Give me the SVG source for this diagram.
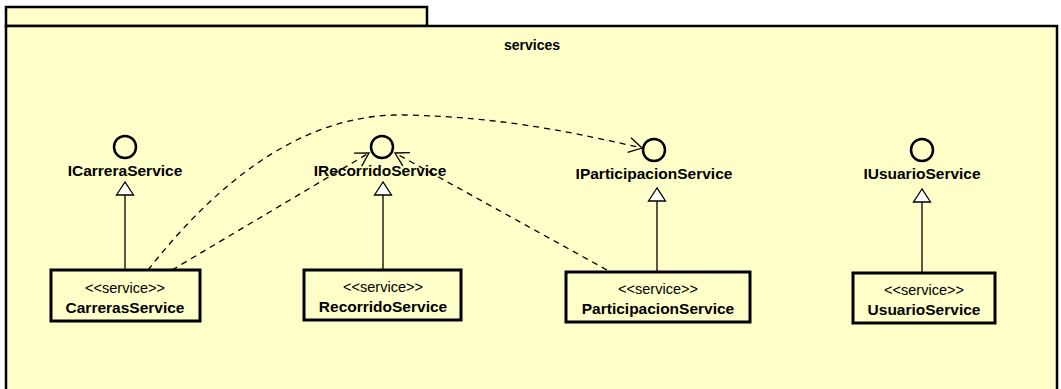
<svg xmlns="http://www.w3.org/2000/svg" width="1061" height="389" viewBox="0 0 1061 389">
  <style>
    .pkg { fill: #ffffca; stroke: #000; stroke-width: 2.5; }
    .cls { fill: #ffffca; stroke: #000; stroke-width: 3; }
    .iface { fill: none; stroke: #000; stroke-width: 2.5; }
    .real { fill: none; stroke: #000; stroke-width: 1.3; }
    .tri { fill: #fff; stroke: #000; stroke-width: 1.3; }
    .dep { fill: none; stroke: #000; stroke-width: 1.3; stroke-dasharray: 6 5; }
    .lbl { font-family: "Liberation Sans", Arial, sans-serif; font-weight: bold; font-size: 15.5px; text-anchor: middle; fill: #000; }
    .ster { font-family: "Liberation Sans", Arial, sans-serif; font-size: 14.5px; text-anchor: middle; fill: #000; }
    .title { font-family: "Liberation Sans", Arial, sans-serif; font-weight: bold; font-size: 14px; text-anchor: middle; fill: #000; }
  </style>
  <defs>
    <marker id="open" markerUnits="userSpaceOnUse" markerWidth="20" markerHeight="20" viewBox="-16 -10 18 20" refX="0" refY="0" orient="auto">
      <path d="M-13,-7.5 L0,0 L-13,7.5" fill="none" stroke="#000" stroke-width="1.3"/>
    </marker>
  </defs>

  <!-- package frame -->
  <g id="pkg-services">
    <rect class="pkg" x="6" y="7" width="421" height="19"/>
    <rect class="pkg" x="6" y="26" width="1051" height="380"/>
    <text class="title" x="532" y="50">services</text>
  </g>

  <!-- provided interfaces -->
  <g id="ICarreraService">
    <circle class="iface" cx="125" cy="147" r="11"/>
    <text class="lbl" x="125" y="176">ICarreraService</text>
  </g>
  <g id="IRecorridoService">
    <circle class="iface" cx="382" cy="147" r="11"/>
    <text class="lbl" x="380" y="176">IRecorridoService</text>
  </g>
  <g id="IParticipacionService">
    <circle class="iface" cx="654" cy="150" r="11"/>
    <text class="lbl" x="654" y="179">IParticipacionService</text>
  </g>
  <g id="IUsuarioService">
    <circle class="iface" cx="922" cy="150" r="11"/>
    <text class="lbl" x="922" y="179">IUsuarioService</text>
  </g>

  <!-- service classes -->
  <g id="CarrerasService">
    <rect class="cls" x="51" y="270" width="149" height="51"/>
    <text class="ster" x="125" y="293">&lt;&lt;service&gt;&gt;</text>
    <text class="lbl" x="125" y="313">CarrerasService</text>
  </g>
  <g id="RecorridoService">
    <rect class="cls" x="304" y="270" width="157" height="50"/>
    <text class="ster" x="383" y="292">&lt;&lt;service&gt;&gt;</text>
    <text class="lbl" x="383" y="312">RecorridoService</text>
  </g>
  <g id="ParticipacionService">
    <rect class="cls" x="566" y="272" width="184" height="50"/>
    <text class="ster" x="658" y="294">&lt;&lt;service&gt;&gt;</text>
    <text class="lbl" x="658" y="314">ParticipacionService</text>
  </g>
  <g id="UsuarioService">
    <rect class="cls" x="853" y="273" width="142" height="50"/>
    <text class="ster" x="924" y="295">&lt;&lt;service&gt;&gt;</text>
    <text class="lbl" x="924" y="315">UsuarioService</text>
  </g>

  <!-- connectors -->
  <g id="connectors">
    <!-- realizations -->
    <line class="real" x1="125" y1="195" x2="125" y2="270"/>
    <polygon class="tri" points="125,182 116.5,195 133.5,195"/>
    <line class="real" x1="383" y1="195" x2="383" y2="270"/>
    <polygon class="tri" points="383,182 374.5,195 391.5,195"/>
    <line class="real" x1="657" y1="201" x2="657" y2="272"/>
    <polygon class="tri" points="657,188 648.5,201 665.5,201"/>
    <line class="real" x1="922" y1="202" x2="922" y2="273"/>
    <polygon class="tri" points="922,189 913.5,202 930.5,202"/>
    <!-- usage dependencies -->
    <path class="dep" d="M148,270 C215,185 300,113 405,115 C505,117 580,134 642,148" marker-end="url(#open)"/>
    <path class="dep" d="M172,270 L369,153" marker-end="url(#open)"/>
    <path class="dep" d="M607,270 L395,153" marker-end="url(#open)"/>
  </g>
</svg>
